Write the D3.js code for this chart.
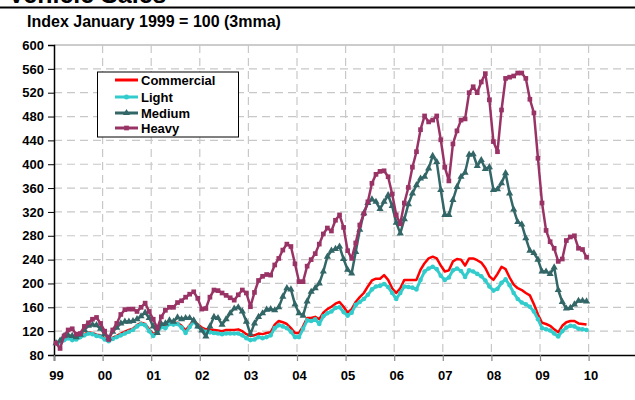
<!DOCTYPE html>
<html><head><meta charset="utf-8">
<script src="https://cdn.jsdelivr.net/npm/d3@7/dist/d3.min.js"></script>
<style>
body{margin:0;background:#fff}
svg{display:block}
text{font-family:Arial,"Liberation Sans",sans-serif;font-weight:bold;fill:#000}
</style>
</head><body>
<svg id="c" width="635" height="400"></svg>
<script>
const title = "Vehicle Sales";
const subtitle = "Index January 1999 = 100 (3mma)";
const yearValues = [1999,2000,2001,2002,2003,2004,2005,2006,2007,2008,2009,2010];
const yearLabels = ["99","00","01","02","03","04","05","06","07","08","09","10"];
const yTicks = [80,120,160,200,240,280,320,360,400,440,480,520,560,600];
const seriesNames = ["Commercial","Light","Medium","Heavy"];

// monthly, Jan 1999 .. Dec 2009
const commercial = [
  100,102,106,109,106,108,111,115,118,117,114,113,
  108,105,109,112,116,119,122,124,130,134,132,123,
  115,120,129,128,134,133,134,129,121,130,138,131,
  126,123,123,122,121,120,122,122,122,123,120,115,
  112,113,116,115,117,118,131,137,135,132,125,117,
  117,128,142,142,144,140,151,157,161,166,169,161,
  151,157,169,177,184,195,205,208,208,214,206,192,
  184,192,206,206,206,206,223,234,242,245,242,230,
  220,222,237,241,240,230,242,242,239,235,226,212,
  206,216,228,224,210,198,192,189,184,180,165,148,
  134,132,129,123,118,129,135,137,137,133,132,131
];
const light = [
  100,101,105,108,105,106,110,113,116,115,112,111,
  106,103,107,110,113,116,119,122,128,132,130,120,
  112,118,127,125,132,131,132,126,117,127,136,128,
  122,119,118,117,116,115,116,116,116,116,113,108,
  105,106,110,108,110,113,125,130,128,125,119,110,
  110,124,138,137,140,132,145,150,153,159,160,152,
  146,151,164,169,174,181,190,195,196,199,194,184,
  174,184,195,194,193,190,206,220,225,228,224,213,
  206,210,222,225,221,211,222,220,216,212,205,195,
  188,191,201,207,197,184,174,168,165,161,153,140,
  125,123,121,116,111,120,126,129,128,124,123,122
];
const medium = [
  100,104,112,113,112,110,114,122,129,131,130,124,
  115,108,119,126,133,136,136,137,140,145,151,142,
  128,117,132,133,138,136,143,140,142,142,138,128,
  121,111,128,144,142,131,140,150,158,160,153,136,
  115,133,144,150,156,157,155,160,178,192,190,165,
  150,146,170,186,192,200,220,245,255,258,262,241,
  223,217,253,290,318,335,341,337,325,337,348,330,
  302,284,308,333,351,365,376,379,393,414,404,357,
  315,315,340,362,379,386,416,417,397,407,392,395,
  357,358,368,385,351,324,303,299,276,255,251,240,
  220,220,216,227,189,169,158,159,165,171,171,170
];
const heavy = [
  100,91,112,122,124,115,116,128,134,140,143,133,
  120,106,122,133,148,156,157,157,153,160,167,153,
  140,125,144,155,160,160,168,171,177,182,186,175,
  157,158,177,189,188,184,180,176,172,181,189,184,
  161,185,205,212,215,214,231,242,256,266,262,233,
  203,203,229,240,250,266,283,293,288,306,315,294,
  255,242,268,298,317,337,368,383,388,389,379,350,
  315,300,335,361,395,421,458,481,471,474,481,441,
  395,372,434,456,474,476,520,530,520,538,552,508,
  438,421,491,544,546,548,553,553,544,509,486,410,
  335,289,270,259,237,241,272,278,280,259,257,244
];

const colors = {Commercial:"#ff0000", Light:"#33cccc", Medium:"#336666", Heavy:"#993366"};
const series = [
  {name:"Commercial", values:commercial, marker:null, width:2.5},
  {name:"Light", values:light, marker:"circle", width:3},
  {name:"Medium", values:medium, marker:"triangle", width:2.5},
  {name:"Heavy", values:heavy, marker:"square", width:2.5}
];

const svg = d3.select("#c");
const W = 635, H = 400;
const L = 54, T = 45, B = 355;
const x = d3.scaleLinear().domain([1999, 2011]).range([L, L + 48.6*12]);
const y = d3.scaleLinear().domain([80, 600]).range([B, T]);
const xOf = i => x(1999 + (i + 0.5) / 12);

// title (cut at top, as in the reference) and rule
svg.append("text").attr("x", 8).attr("y", 3).style("font-size","25px").text(title);
svg.append("line").attr("x1",0).attr("x2",W).attr("y1",7.5).attr("y2",7.5)
  .attr("stroke","#000").attr("stroke-width",2);
svg.append("text").attr("x", 27).attr("y", 27).style("font-size","16px").text(subtitle);

// gridlines
const grid = svg.append("g");
grid.selectAll("line.h").data(yTicks.filter(v => v > 80 && v < 600)).join("line")
  .attr("x1", L).attr("x2", W).attr("y1", d => y(d)).attr("y2", d => y(d))
  .attr("stroke", "#c8c8c8").attr("stroke-width", 1.2).attr("stroke-dasharray", "8,5");
grid.append("line").attr("x1", L).attr("x2", W).attr("y1", y(600)).attr("y2", y(600))
  .attr("stroke", "#999").attr("stroke-width", 1);
grid.selectAll("line.v").data(yearValues.slice(1).concat([2011])).join("line")
  .attr("x1", d => x(d)).attr("x2", d => x(d)).attr("y1", T).attr("y2", B)
  .attr("stroke", "#c8c8c8").attr("stroke-width", 1.2).attr("stroke-dasharray", "8,5");

// axes
const yAxis = d3.axisLeft(y).tickValues(yTicks).tickSize(6).tickPadding(4).tickFormat(d3.format("d"));
const gy = svg.append("g").attr("transform", `translate(${L},0)`).call(yAxis);
gy.select(".domain").attr("stroke","#000").attr("stroke-width",1.5);
gy.selectAll(".tick line").attr("stroke","#000");
gy.selectAll(".tick text").style("font-size","13px").style("font-family","Arial,'Liberation Sans',sans-serif").style("font-weight","bold");

const xAxis = d3.axisBottom(x).tickValues(yearValues).tickSize(6).tickPadding(10)
  .tickFormat((d, i) => yearLabels[i]);
const gx = svg.append("g").attr("transform", `translate(0,${B})`).call(xAxis);
gx.select(".domain").attr("stroke","#000").attr("stroke-width",1.5);
gx.selectAll(".tick line").attr("stroke","#888").attr("stroke-width",1.2);
gx.selectAll(".tick text").attr("dx", 2).style("font-size","13px").style("font-family","Arial,'Liberation Sans',sans-serif").style("font-weight","bold");

// series
const line = d3.line().x((d, i) => xOf(i)).y(d => y(d));
const symTri = d3.symbol().type(d3.symbolTriangle).size(22);
const symSq = d3.symbol().type(d3.symbolSquare).size(22);
series.forEach(s => {
  const g = svg.append("g");
  g.append("path").datum(s.values).attr("d", line).attr("fill","none")
    .attr("stroke", colors[s.name]).attr("stroke-width", s.width).attr("stroke-linejoin","round");
  if (s.marker === "circle") {
    g.selectAll("circle").data(s.values).join("circle")
      .attr("cx", (d, i) => xOf(i)).attr("cy", d => y(d)).attr("r", 2.3).attr("fill", colors[s.name]);
  } else if (s.marker) {
    const sym = s.marker === "triangle" ? symTri : symSq;
    g.selectAll("path.m").data(s.values).join("path").attr("class","m")
      .attr("transform", (d, i) => `translate(${xOf(i)},${y(d)})`).attr("d", sym())
      .attr("fill", colors[s.name]);
  }
});

// legend
const lg = svg.append("g");
lg.append("rect").attr("x", 97.5).attr("y", 72).attr("width", 141).attr("height", 65)
  .attr("fill","#fff").attr("stroke","#000").attr("stroke-width",1);
const rowY = [80, 97, 113, 128];
series.forEach((s, k) => {
  const yy = rowY[k];
  lg.append("line").attr("x1", 115).attr("x2", 138).attr("y1", yy).attr("y2", yy)
    .attr("stroke", colors[s.name]).attr("stroke-width", 3);
  if (s.marker === "circle") {
    lg.append("circle").attr("cx", 126.5).attr("cy", yy).attr("r", 2.5).attr("fill", colors[s.name]);
  } else if (s.marker) {
    const sym = s.marker === "triangle" ? symTri : symSq;
    lg.append("path").attr("transform", `translate(126.5,${yy})`).attr("d", sym()).attr("fill", colors[s.name]);
  }
  lg.append("text").attr("x", 141).attr("y", yy).attr("dy", "0.36em").style("font-size","13px").text(s.name);
});
</script>
</body></html>
